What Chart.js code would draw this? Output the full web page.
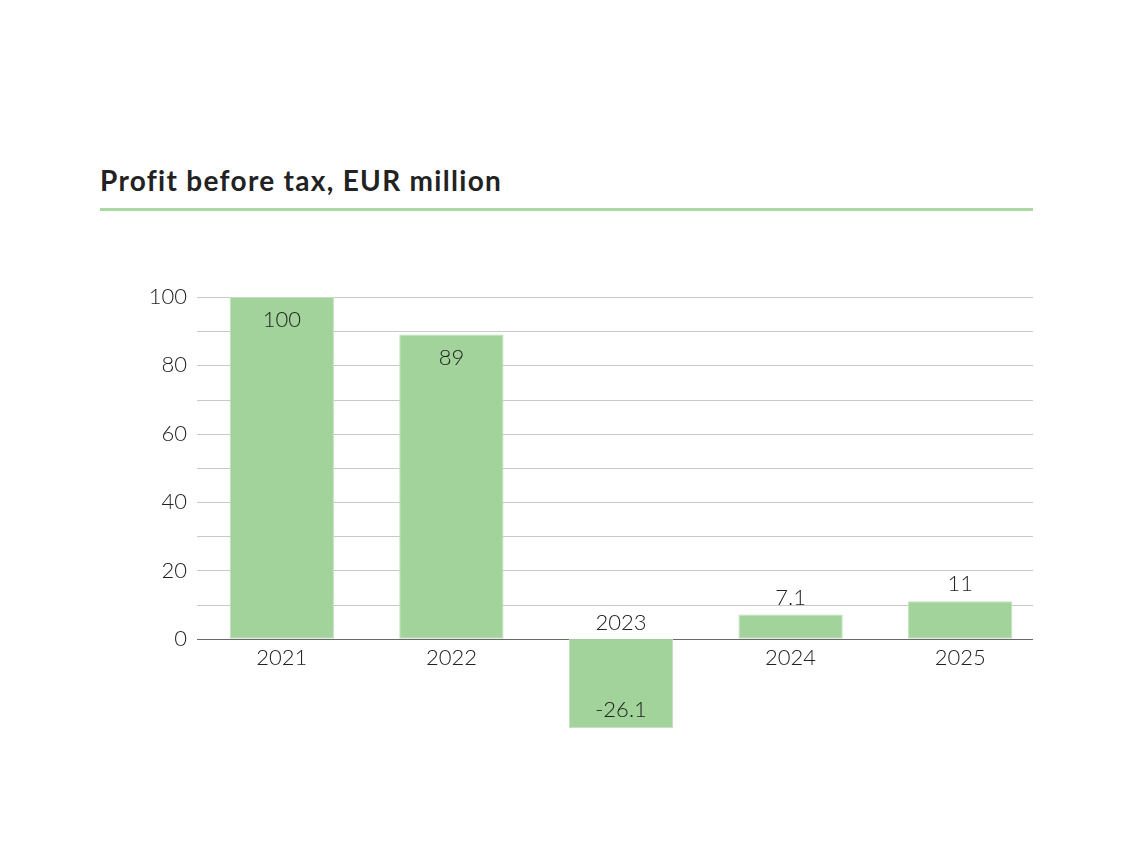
<!DOCTYPE html>
<html>
<head>
<meta charset="utf-8">
<script src="https://cdn.jsdelivr.net/npm/chart.js@4.4.1/dist/chart.umd.min.js"></script>
<style>
  html, body { margin: 0; padding: 0; background: #fff; }
  #wrap { position: relative; width: 1134px; height: 850px; }
  #title { position: absolute; left: 100px; top: 163px; margin: 0;
           font-family: Lato, "Noto Sans", sans-serif; font-weight: 700; font-size: 28px;
           color: #222; letter-spacing: 1.3px; }
  #rule { position: absolute; left: 100px; top: 208px; width: 933px; height: 3px; background: #a9d8a2; }
  canvas { position: absolute; left: 0; top: 0; }
</style>
</head>
<body>
<div id="wrap">
  <h2 id="title">Profit before tax, EUR million</h2>
  <div id="rule"></div>
  <canvas id="c" width="1134" height="850"></canvas>
</div>
<script>
const categories = ["2021", "2022", "2023", "2024", "2025"];
const profitValues = [100, 89, -26.1, 7.1, 11];
const valueLabels = ["100", "89", "-26.1", "7.1", "11"];
const yTickLabels = [0, 20, 40, 60, 80, 100];
const gridValues = [0, 10, 20, 30, 40, 50, 60, 70, 80, 90, 100];

const FONT = 'Lato, "Noto Sans", sans-serif';
const TEXT = '#222';

const overlay = {
  id: 'overlay',
  beforeDatasetsDraw(chart) {
    const ctx = chart.ctx, y = chart.scales.y, area = chart.chartArea;
    ctx.save();
    gridValues.forEach(v => {
      const py = Math.round(y.getPixelForValue(v)) + 0.5;
      ctx.beginPath();
      ctx.moveTo(area.left, py);
      ctx.lineTo(1033, py);
      ctx.strokeStyle = v === 0 ? '#6a6a6a' : '#c9c9c9';
      ctx.lineWidth = v === 0 ? 1.2 : 1;
      ctx.stroke();
    });
    ctx.restore();
  },
  afterDatasetsDraw(chart) {
    const ctx = chart.ctx, y = chart.scales.y;
    const meta = chart.getDatasetMeta(0);
    const zero = y.getPixelForValue(0);
    ctx.save();
    ctx.fillStyle = TEXT;
    ctx.textAlign = 'center';
    ctx.textBaseline = 'middle';
    ctx.font = '300 22px ' + FONT;
    meta.data.forEach((bar, i) => {
      const v = profitValues[i];
      const cy = v >= 0 ? zero + 19 : zero - 16;
      ctx.fillText(categories[i], bar.x, cy);
      let vy;
      if (v < 0) vy = bar.y - 18;
      else if (v > 20) vy = bar.y + 23;
      else vy = bar.y - 17;
      ctx.fillText(valueLabels[i], bar.x, vy);
    });
    ctx.restore();
  }
};

new Chart(document.getElementById('c'), {
  type: 'bar',
  data: {
    labels: categories,
    datasets: [{
      data: profitValues,
      backgroundColor: '#a1d39b',
      borderColor: '#c3dfbf',
      borderWidth: 1,
      borderSkipped: false,
      categoryPercentage: 1,
      barPercentage: 0.615
    }]
  },
  options: {
    responsive: false,
    animation: false,
    devicePixelRatio: 1,
    layout: { padding: { left: 0, top: 297, right: 89, bottom: 122 } },
    plugins: { legend: { display: false }, tooltip: { enabled: false }, title: { display: false } },
    scales: {
      x: { display: false, grid: { display: false } },
      y: {
        min: -26.1, max: 100,
        afterFit(scale) { scale.width = 197; },
        afterBuildTicks(scale) {
          scale.ticks = yTickLabels.map(v => ({ value: v }));
        },
        border: { display: false },
        grid: { display: false, drawTicks: false },
        ticks: {
          padding: 10,
          color: TEXT,
          font: { family: FONT, size: 22, weight: 300 },
          callback: v => String(v)
        }
      }
    }
  },
  plugins: [overlay]
});
</script>
</body>
</html>
